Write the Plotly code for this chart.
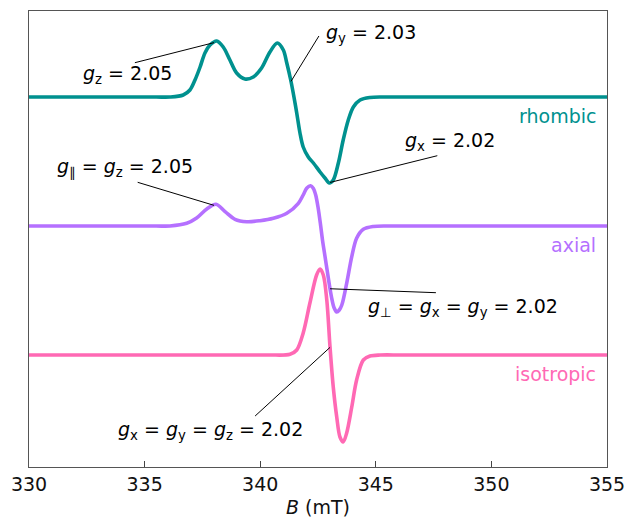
import numpy as np
import plotly.graph_objects as go

# ---- spectra: field (mT) and first-derivative signal (arb. units) ----
rhombic_B = [330, 333.0, 335.5, 336.10, 336.67, 336.96, 337.18, 337.40, 337.61, 337.83,
             338.12, 338.40, 338.69, 338.98, 339.34, 339.70, 340.06, 340.42, 340.74, 341.00,
             341.15, 341.32, 341.46, 341.58, 341.72, 341.86, 342.08, 342.30, 342.59, 342.80,
             342.99, 343.16, 343.38, 343.59, 343.81, 344.03, 344.32, 344.75, 345.3, 346.3, 355]
rhombic_S = [0, 0, 0, 0, 2, 7, 17, 30, 44, 52,
             56, 50, 37, 24, 18, 20, 29, 45, 54, 47,
             34, 17, 0, -16, -36, -50, -60, -66, -75, -81,
             -86, -83, -66, -43, -23, -10, -3, -0.5, 0, 0, 0]

axial_B = [330, 333.0, 335.5, 336.10, 336.82, 337.25, 337.69, 338.09, 338.48, 338.91,
           339.42, 339.99, 340.57, 341.15, 341.65, 341.86, 342.01, 342.18, 342.30, 342.40,
           342.50, 342.60, 342.70, 342.80, 342.90, 343.00, 343.10, 343.20, 343.31, 343.42,
           343.53, 343.74, 343.96, 344.17, 344.46, 344.89, 345.5, 346.5, 355]
axial_S = [0, 0, 0, 0, 2.7, 8, 17, 21.7, 14.3, 6.7,
           4.3, 5.3, 7.7, 12.7, 22.7, 31, 37.7, 40.3, 37.5, 31,
           19, 3, -15, -30, -45, -60, -73, -82, -86, -84,
           -79, -57.3, -30.7, -12.3, -3.3, -0.5, 0, 0, 0]

iso_B = [330, 336.0, 339.5, 340.42, 341.29, 341.58, 341.86, 342.15, 342.44, 342.59,
         342.73, 342.88, 343.02, 343.16, 343.31, 343.45, 343.59, 343.74, 343.96, 344.17,
         344.46, 344.75, 345.2, 346.2, 355]
iso_S = [0, 0, 0, 0, 0.7, 5, 22, 52, 80, 86,
         80, 55, 8, -32, -62, -82, -87, -78, -52, -25,
         -5, -1, 0, 0, 0]

# vertical offsets of the stacked spectra
offsets = {"rhombic": 370, "axial": 241, "isotropic": 112}
colors = {"rhombic": "#00918f", "axial": "#b570ff", "isotropic": "#ff69b4"}

# microwave frequency (GHz) and h/muB (mT*GHz) for B = h*nu/(g*muB)
nu_GHz = 9.698
h_over_muB = 71.448


def resonance_field(g):
    return h_over_muB * nu_GHz / g


series = {
    "rhombic": (np.array(rhombic_B), np.array(rhombic_S) + offsets["rhombic"]),
    "axial": (np.array(axial_B), np.array(axial_S) + offsets["axial"]),
    "isotropic": (np.array(iso_B), np.array(iso_S) + offsets["isotropic"]),
}

FONT = "DejaVu Sans"
fig = go.Figure()
for name, (bx, sy) in series.items():
    fig.add_trace(go.Scatter(x=bx, y=sy, mode="lines", name=name,
                             line=dict(color=colors[name], width=3.6, shape="spline", smoothing=0.9),
                             showlegend=False, hoverinfo="skip"))

# g-value labels: (series, g, text, label centre, leader start)
g_labels = [
    ("rhombic", 2.05, "<i>g</i><sub>z</sub> = 2.05", (334.24, 393), (334.58, 404.3)),
    ("rhombic", 2.03, "<i>g</i><sub>y</sub> = 2.03", (344.79, 434), (342.54, 431)),
    ("rhombic", 2.02, "<i>g</i><sub>x</sub> = 2.02", (348.19, 326), (347.66, 311.3)),
    ("axial", 2.05, "<i>g</i><sub>∥</sub> = <i>g</i><sub>z</sub> = 2.05", (334.14, 299.5), (334.70, 284.7)),
    ("axial", 2.02, "<i>g</i><sub>⊥</sub> = <i>g</i><sub>x</sub> = <i>g</i><sub>y</sub> = 2.02", (348.76, 159.5), (347.60, 174.3)),
    ("isotropic", 2.02, "<i>g</i><sub>x</sub> = <i>g</i><sub>y</sub> = <i>g</i><sub>z</sub> = 2.02", (337.83, 37), (339.78, 51)),
]

for name, g, text, (tx, ty), (lx, ly) in g_labels:
    bx, sy = series[name]
    b_res = resonance_field(g)
    s_res = float(np.interp(b_res, bx, sy))
    fig.add_shape(type="line", xref="x", yref="y", x0=lx, y0=ly, x1=b_res, y1=s_res,
                  line=dict(color="black", width=1))
    fig.add_annotation(x=tx, y=ty, xref="x", yref="y", text=text, showarrow=False,
                       xanchor="center", yanchor="middle",
                       font=dict(family=FONT, size=19, color="black"))

# series names at the right edge
name_pos = {"rhombic": 351, "axial": 222, "isotropic": 93}
for name, y in name_pos.items():
    fig.add_annotation(x=354.6, y=y, xref="x", yref="y", text=name, showarrow=False,
                       xanchor="right", yanchor="middle",
                       font=dict(family=FONT, size=19, color=colors[name]))

fig.update_layout(
    width=626, height=524,
    margin=dict(l=29, r=19, t=11, b=57),
    paper_bgcolor="white", plot_bgcolor="white",
    font=dict(family=FONT, size=19, color="#111"),
)
fig.update_xaxes(range=[330, 355], tickvals=[330, 335, 340, 345, 350, 355],
                 ticks="inside", ticklen=6, tickwidth=1, tickcolor="#444",
                 showline=True, linecolor="#555", linewidth=1.3, mirror=True,
                 showgrid=False, zeroline=False, automargin=False,
                 title=dict(text="<i>B</i> (mT)", standoff=6, font=dict(family=FONT, size=19)))
fig.update_yaxes(range=[0, 456], showticklabels=False, ticks="",
                 showline=True, linecolor="#555", linewidth=1.3, mirror=True,
                 showgrid=False, zeroline=False, automargin=False)

fig.write_html("out.html")
